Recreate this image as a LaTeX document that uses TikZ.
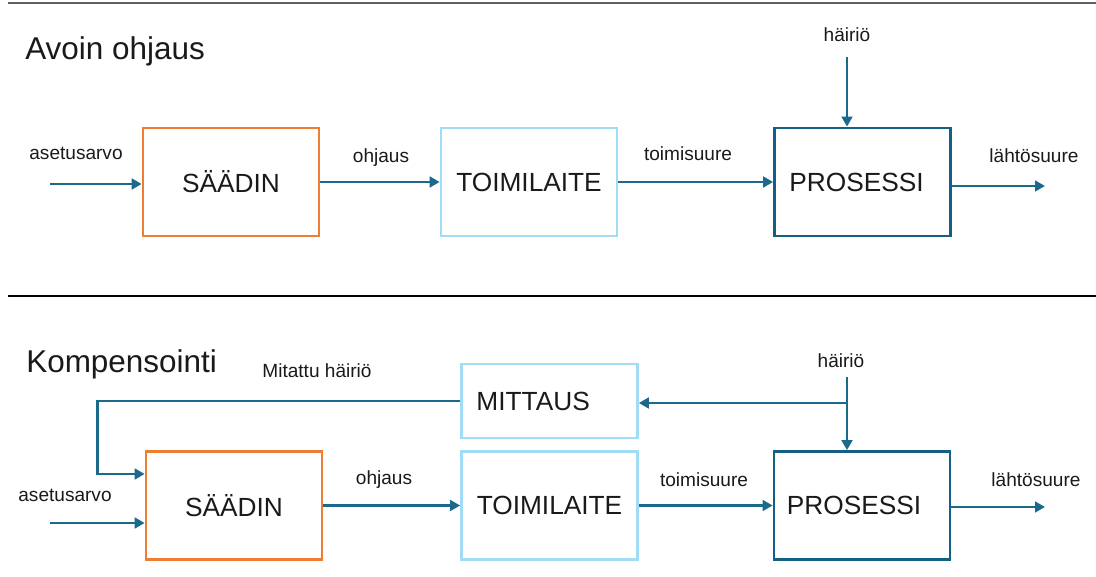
\documentclass[tikz,border=0pt]{standalone}
\usepackage{fontspec}
\setmainfont{Liberation Sans}
\usetikzlibrary{arrows.meta}
\definecolor{orangeline}{HTML}{ED7D31}
\definecolor{lightline}{HTML}{A0DCF6}
\definecolor{darkline}{HTML}{156082}
\definecolor{flowline}{HTML}{1B6A8C}
\definecolor{txt}{HTML}{1A1A1A}
\definecolor{rulegray}{HTML}{606060}
\begin{document}
\begin{tikzpicture}[x=0.75pt,y=-0.75pt,
  box/.style={draw, line width=2pt, minimum width=132pt, minimum height=81pt,
    inner sep=0pt, font=\fontsize{19.7}{22}\selectfont, text=txt},
  boxtext/.style={inner sep=0pt, font=\fontsize{19.7}{22}\selectfont, text=txt},
  ctrl/.style={box, draw=orangeline},
  act/.style={box, draw=lightline},
  proc/.style={box, draw=darkline},
  lbl/.style={font=\fontsize{14.3}{16}\selectfont, text=txt, anchor=base, inner sep=0pt},
  ttl/.style={font=\fontsize{23.6}{28}\selectfont, text=txt, anchor=base west, inner sep=0pt},
  flow/.style={draw=flowline, line width=2pt, -{Triangle[length=7.5pt,width=8pt]}},
  rulerline/.style={line width=1pt}]

\fill[white] (0,0) rectangle (1096,577);
\useasboundingbox (0,0) rectangle (1096,577);

% section separators
\draw[rulerline, draw=rulegray, line width=1.5pt] (8,3) -- (1096,3);
\draw[rulerline, draw=black] (8,296) -- (1096,296);

% ---------------- open-loop control ----------------
\node[ttl] (title1) at (25,60) {Avoin ohjaus};

\node[ctrl] (s1) at (231,182) {SÄÄDIN};
\node[act]  (t1) at (529,182) {TOIMILAITE};
\node[proc] (p1) at (862.5,182) {};
\node[boxtext, anchor=west] (p1t) at ([xshift=12pt]p1.west) {PROSESSI};

\coordinate (in1) at (50,184);
\coordinate (o1) at (1045,186);
\coordinate (d1) at (847,57);

\draw[flow] (in1) -- (in1 -| s1.west);
\draw[flow] (s1.east) -- (t1.west);
\draw[flow] (t1.east) -- (p1.west);
\draw[flow] (o1 -| p1.east) -- (o1);
\draw[flow] (d1) -- (d1 |- p1.north);

\node[lbl] (las1) at (76,160) {asetusarvo};
\node[lbl] (loh1) at (381,163) {ohjaus};
\node[lbl] (lto1) at (688,161) {toimisuure};
\node[lbl] (lla1) at (1034,163) {lähtösuure};
\node[lbl] (lha1) at (847,42) {häiriö};

% ---------------- feedforward compensation ----------------
\node[ttl] (title2) at (26,372) {Kompensointi};

\node[ctrl] (s2) at (234,505.5) {SÄÄDIN};
\node[act]  (t2) at (549.5,505.5) {TOIMILAITE};
\node[act, minimum height=55.5pt] (m2) at (549.5,401) {};
\node[boxtext, anchor=west] (m2t) at ([xshift=12pt]m2.west) {MITTAUS};
\node[proc] (p2) at (862,505.5) {};
\node[boxtext, anchor=west] (p2t) at ([xshift=10.5pt]p2.west) {PROSESSI};

\coordinate (in2) at (50,523);
\coordinate (fb) at (97.5,474);
\coordinate (o2) at (1045,507);
\coordinate (d2) at (847,377);
\coordinate (br) at (847,403);

\draw[flow] (in2) -- (in2 -| s2.west);
\draw[flow] (m2.west) -| (fb) -- (fb -| s2.west);
\draw[flow] (s2.east) -- (t2.west);
\draw[flow] (t2.east) -- (p2.west);
\draw[flow] (o2 -| p2.east) -- (o2);
\draw[flow] (d2) -- (d2 |- p2.north);
\draw[flow] (br) -- (br -| m2.east);

\node[lbl] (lmi2) at (317,378) {Mitattu häiriö};
\node[lbl] (lha2) at (841,367) {häiriö};
\node[lbl] (las2) at (65,501) {asetusarvo};
\node[lbl] (loh2) at (384,484) {ohjaus};
\node[lbl] (lto2) at (704,486) {toimisuure};
\node[lbl] (lla2) at (1036,486) {lähtösuure};

\end{tikzpicture}
\end{document}
